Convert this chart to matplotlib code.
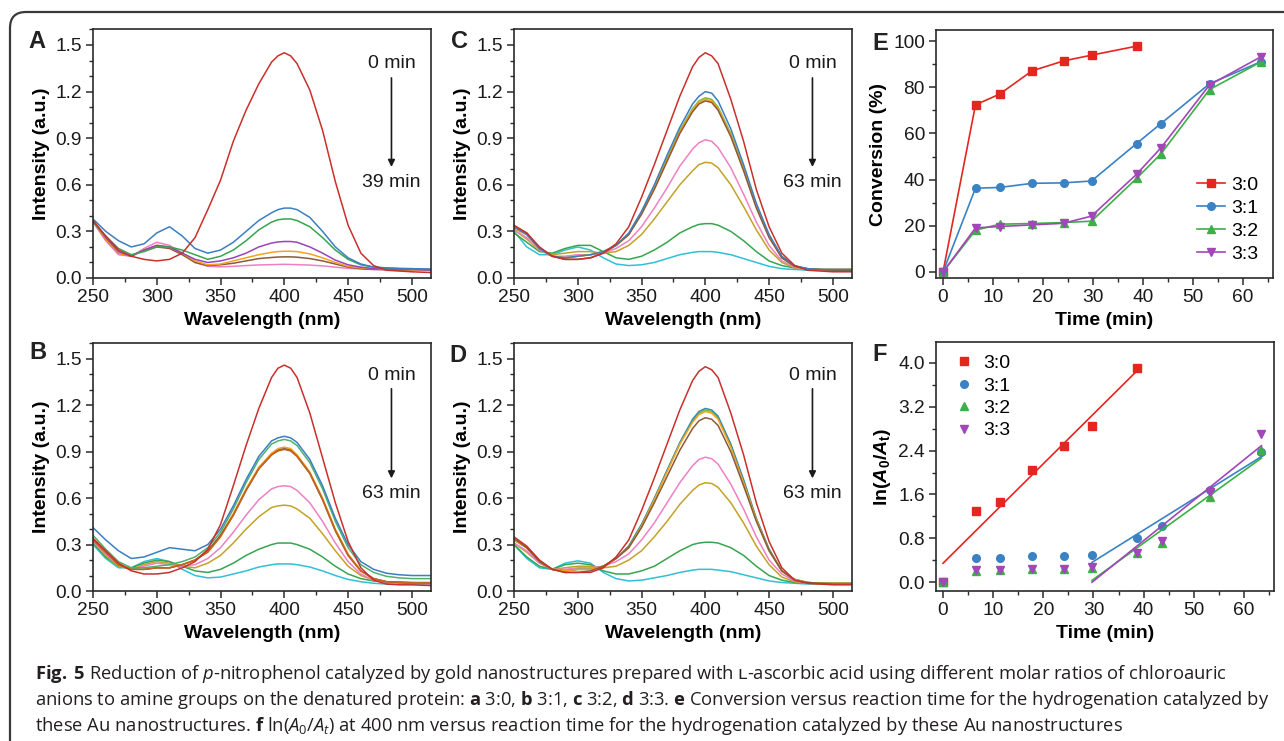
import numpy as np
import matplotlib
matplotlib.use('Agg')
import matplotlib.pyplot as plt
from matplotlib.ticker import MultipleLocator, AutoMinorLocator, FormatStrFormatter
from matplotlib.patches import FancyBboxPatch
from matplotlib.transforms import IdentityTransform

plt.rcParams['font.family'] = ['Liberation Sans', 'DejaVu Sans']
plt.rcParams['mathtext.fontset'] = 'custom'
plt.rcParams['mathtext.rm'] = 'Open Sans'
plt.rcParams['mathtext.it'] = 'Open Sans:italic'
plt.rcParams['mathtext.bf'] = 'Open Sans:bold'
plt.rcParams['mathtext.bfit'] = 'Liberation Sans:italic:bold'
plt.rcParams['mathtext.sf'] = 'Liberation Sans:bold'
plt.rcParams['mathtext.cal'] = 'DejaVu Sans'
plt.rcParams['mathtext.fallback'] = 'stixsans'

# ---------------- data ----------------
WL = [250, 260, 270, 280, 290, 300, 310, 320, 330, 340,
      350, 360, 370, 380, 390, 395, 400, 405, 410, 420,
      430, 440, 450, 460, 470, 480, 490, 500, 515]

# Panel A (3:0), 0 -> 39 min
A_red = [.37, .27, .18, .14, .12, .11, .12, .16, .26, .44,
         .63, .88, 1.08, 1.25, 1.39, 1.43, 1.45, 1.43, 1.38, 1.21,
         .95, .62, .34, .16, .08, .05, .045, .04, .035]
A_blue = [.38, .30, .24, .20, .22, .29, .33, .27, .19, .16,
          .18, .23, .30, .37, .42, .44, .45, .45, .44, .39,
          .30, .20, .13, .09, .07, .065, .062, .06, .058]
A_green = [.36, .27, .19, .15, .17, .20, .20, .18, .15, .12,
           .14, .18, .24, .31, .36, .375, .38, .38, .37, .33,
           .26, .18, .12, .085, .07, .065, .06, .06, .055]
A_purple = [.37, .26, .17, .14, .18, .21, .20, .16, .12, .10,
            .11, .13, .16, .20, .225, .232, .235, .235, .23, .20,
            .16, .115, .085, .07, .06, .058, .056, .055, .05]
A_orange = [.37, .25, .16, .14, .18, .21, .20, .16, .11, .085,
            .09, .11, .13, .15, .165, .17, .172, .172, .17, .155,
            .13, .10, .075, .065, .06, .055, .055, .05, .05]
A_brown = [.37, .25, .16, .14, .18, .20, .19, .15, .10, .08,
           .085, .095, .11, .125, .132, .135, .136, .136, .134, .125,
           .11, .09, .07, .06, .055, .055, .05, .05, .05]
A_pink = [.36, .24, .15, .14, .19, .23, .21, .16, .10, .075,
          .072, .075, .08, .084, .086, .087, .088, .087, .086, .083,
          .078, .07, .062, .058, .055, .052, .05, .05, .048]

# Panel B (3:1), 0 -> 63 min
B_red = [.34, .26, .18, .13, .11, .11, .12, .15, .19, .27,
         .43, .68, .94, 1.18, 1.38, 1.44, 1.46, 1.44, 1.38, 1.15,
         .86, .57, .32, .15, .07, .045, .04, .04, .035]
B_blue = [.41, .33, .26, .21, .22, .25, .28, .27, .26, .30,
          .40, .55, .72, .87, .97, .99, 1.0, .99, .96, .85,
          .68, .47, .30, .19, .14, .115, .105, .10, .10]
B_green = [.36, .27, .19, .15, .15, .16, .17, .19, .22, .28,
           .38, .53, .70, .85, .95, .97, .98, .97, .94, .83,
           .66, .45, .28, .17, .12, .095, .085, .08, .08]
B_orange = [.34, .26, .18, .14, .14, .15, .15, .17, .20, .26,
            .36, .50, .66, .80, .89, .92, .93, .92, .88, .77,
            .60, .40, .24, .13, .08, .06, .055, .05, .05]
B_brown = [.33, .25, .17, .14, .14, .15, .15, .17, .20, .26,
           .36, .49, .65, .79, .88, .91, .92, .91, .87, .76,
           .59, .39, .23, .13, .08, .06, .055, .05, .05]
B_rust = [.33, .25, .17, .14, .14, .15, .15, .17, .20, .25,
          .35, .49, .65, .79, .88, .905, .915, .905, .87, .76,
          .59, .39, .23, .13, .08, .06, .055, .05, .05]
B_pink = [.32, .24, .17, .14, .16, .18, .17, .16, .17, .21,
          .28, .38, .49, .59, .66, .675, .68, .675, .65, .57,
          .45, .31, .19, .11, .07, .055, .05, .05, .045]
B_olive = [.32, .23, .16, .14, .17, .19, .18, .16, .15, .18,
           .23, .31, .40, .48, .54, .55, .555, .55, .53, .47,
           .37, .26, .16, .10, .07, .06, .055, .055, .05]
B_green2 = [.31, .22, .16, .15, .18, .20, .19, .16, .13, .12,
            .14, .18, .23, .27, .30, .31, .31, .31, .30, .27,
            .22, .16, .11, .08, .065, .06, .06, .055, .055]
B_cyan = [.30, .21, .15, .15, .19, .21, .19, .14, .10, .085,
          .09, .11, .13, .155, .17, .175, .175, .175, .17, .155,
          .13, .10, .075, .06, .05, .045, .045, .045, .045]

# Panel C (3:2), 0 -> 63 min
C_red = [.34, .29, .20, .14, .12, .12, .13, .16, .22, .33,
         .52, .73, .95, 1.17, 1.36, 1.42, 1.45, 1.43, 1.38, 1.15,
         .88, .57, .33, .16, .08, .05, .045, .04, .04]
C_blue = [.33, .28, .19, .14, .13, .14, .15, .17, .21, .29,
          .43, .60, .79, .97, 1.12, 1.17, 1.20, 1.19, 1.14, .96,
          .73, .48, .28, .14, .08, .06, .055, .055, .055]
C_lime = [.32, .28, .19, .14, .13, .14, .15, .17, .21, .28,
          .42, .58, .77, .95, 1.09, 1.14, 1.16, 1.15, 1.10, .93,
          .71, .47, .27, .13, .075, .06, .055, .055, .055]
C_orange = [.32, .28, .19, .14, .13, .14, .15, .17, .21, .28,
            .42, .58, .76, .94, 1.08, 1.13, 1.15, 1.14, 1.09, .92,
            .70, .46, .27, .13, .075, .06, .055, .055, .055]
C_brown = [.33, .29, .19, .14, .12, .12, .13, .16, .21, .28,
           .41, .57, .75, .93, 1.07, 1.12, 1.14, 1.13, 1.08, .91,
           .69, .45, .26, .13, .075, .06, .055, .05, .05]
C_pink = [.31, .26, .18, .14, .14, .15, .15, .16, .19, .24,
          .33, .45, .58, .72, .83, .87, .89, .88, .84, .71,
          .54, .36, .21, .11, .07, .055, .05, .05, .05]
C_olive = [.31, .25, .18, .15, .16, .17, .17, .16, .17, .21,
           .28, .38, .49, .60, .69, .73, .745, .74, .71, .60,
           .46, .31, .18, .10, .065, .055, .05, .05, .05]
C_green = [.29, .23, .17, .16, .19, .21, .21, .17, .13, .12,
           .14, .18, .23, .29, .33, .345, .35, .35, .34, .30,
           .24, .17, .11, .08, .065, .06, .055, .055, .055]
C_cyan = [.30, .20, .15, .15, .18, .20, .18, .13, .09, .08,
          .085, .10, .125, .15, .165, .17, .17, .17, .165, .15,
          .125, .10, .075, .06, .055, .05, .05, .05, .05]

# Panel D (3:3), 0 -> 63 min
D_red = [.35, .29, .20, .14, .12, .12, .12, .15, .22, .33,
         .52, .73, .95, 1.17, 1.36, 1.42, 1.45, 1.43, 1.38, 1.15,
         .88, .57, .32, .15, .07, .05, .045, .04, .04]
D_teal = [.33, .28, .19, .14, .13, .14, .14, .16, .21, .29,
          .43, .60, .78, .96, 1.11, 1.16, 1.18, 1.17, 1.13, .95,
          .72, .47, .27, .13, .075, .055, .05, .05, .05]
D_lime = [.33, .28, .19, .14, .13, .14, .14, .16, .21, .29,
          .43, .59, .78, .95, 1.10, 1.15, 1.17, 1.16, 1.12, .94,
          .71, .46, .27, .13, .075, .055, .05, .05, .05]
D_orange = [.33, .28, .19, .14, .13, .14, .14, .16, .21, .28,
            .42, .59, .77, .95, 1.09, 1.14, 1.16, 1.15, 1.11, .93,
            .70, .46, .26, .13, .075, .055, .05, .05, .05]
D_brown = [.34, .28, .19, .14, .12, .12, .13, .16, .21, .28,
           .41, .57, .74, .91, 1.05, 1.10, 1.12, 1.11, 1.07, .90,
           .68, .45, .26, .13, .07, .055, .05, .045, .045]
D_pink = [.31, .26, .18, .14, .14, .15, .15, .16, .19, .24,
          .33, .44, .57, .70, .81, .85, .865, .855, .82, .69,
          .53, .35, .20, .11, .065, .05, .05, .045, .045]
D_olive = [.31, .25, .18, .14, .15, .16, .16, .15, .16, .20,
           .26, .35, .45, .56, .65, .685, .70, .695, .67, .57,
           .44, .29, .17, .09, .06, .05, .045, .045, .045]
D_green = [.30, .22, .16, .14, .17, .18, .17, .13, .11, .11,
           .13, .16, .21, .26, .30, .31, .315, .315, .31, .28,
           .23, .16, .10, .07, .055, .05, .05, .05, .05]
D_cyan = [.30, .21, .15, .14, .18, .195, .18, .12, .08, .065,
          .07, .085, .10, .12, .135, .14, .14, .14, .135, .125,
          .105, .085, .065, .055, .05, .045, .045, .045, .045]

# Panels E and F
T = [0, 6.5, 11.3, 17.8, 24.1, 29.7, 38.7, 43.6, 53.3, 63.5]
RATIOS = ['3:0', '3:1', '3:2', '3:3']
CONV_30 = [0, 72.4, 77.0, 87.1, 91.4, 93.9, 97.8]
CONV_31 = [0, 36.3, 36.6, 38.4, 38.6, 39.4, 55.6, 64.3, 81.5, 91.0]
CONV_32 = [0, 18.1, 20.7, 21.0, 21.4, 22.0, 40.5, 51.2, 79.0, 90.9]
CONV_33 = [0, 19.1, 19.7, 20.4, 21.1, 24.2, 42.3, 53.8, 81.0, 93.1]
LN_30 = [0, 1.29, 1.47, 2.04, 2.49, 2.84, 3.91]
LN_31 = [0, 0.446, 0.45, 0.476, 0.48, 0.495, 0.806, 1.03, 1.68, 2.38]
LN_32 = [0, 0.20, 0.226, 0.238, 0.244, 0.256, 0.53, 0.71, 1.56, 2.41]
LN_33 = [0, 0.214, 0.226, 0.238, 0.25, 0.275, 0.537, 0.76, 1.64, 2.70]

# ---------------- styles ----------------
c_red, c_blue, c_green, c_purple = '#c9302c', '#3b7fc2', '#37a54f', '#9a44b6'
c_orange, c_brown, c_pink, c_olive = '#f2a31f', '#8c5a36', '#ef80c6', '#c4a227'
c_cyan, c_rust, c_lime, c_teal = '#30c0d6', '#c8621e', '#7fb83a', '#2f8fa8'
e_cols = ['#e3261f', '#3a82c4', '#3daf47', '#a246b8']
e_marks = ['s', 'o', '^', 'v']

W, H = 1284, 741
fig = plt.figure(figsize=(W / 100, H / 100), dpi=100)
fig.patch.set_facecolor('white')

def px_axes(l, t, r, b):
    return fig.add_axes([l / W, 1 - b / H, (r - l) / W, (b - t) / H])

SP = '#2a2a2a'
def style(ax):
    for s in ax.spines.values():
        s.set_linewidth(1.2)
        s.set_color(SP)
    ax.tick_params(which='both', direction='out', top=False, right=False,
                   colors=SP, labelsize=13.8, labelcolor='#1a1a1a', pad=3)
    ax.tick_params(which='major', length=5, width=1.1)
    ax.tick_params(which='minor', length=3, width=1.0)

def spectra(ax, curves, tend, ytxt):
    for vals, col in curves:
        ax.plot(WL, vals, color=col, lw=1.1)
    ax.set_xlim(250, 515)
    ax.set_ylim(0, 1.603)
    ax.xaxis.set_major_locator(MultipleLocator(50))
    ax.xaxis.set_minor_locator(AutoMinorLocator(2))
    ax.yaxis.set_major_locator(MultipleLocator(0.3))
    ax.yaxis.set_minor_locator(AutoMinorLocator(3))
    ax.yaxis.set_major_formatter(FormatStrFormatter('%.1f'))
    ax.set_xlabel('Wavelength (nm)', fontsize=14, fontweight='bold', labelpad=4)
    ax.set_ylabel('Intensity (a.u.)', fontsize=14, fontweight='bold', labelpad=4)
    style(ax)
    xa = 484
    y0, ya, yb, y1 = ytxt
    ax.text(xa, y0, '0 min', ha='center', va='center', fontsize=14, color='#1a1a1a')
    ax.annotate('', xy=(xa, yb), xytext=(xa, ya),
                arrowprops=dict(arrowstyle='-|>', color='#1a1a1a', lw=1.2,
                                mutation_scale=10, shrinkA=0, shrinkB=0))
    ax.text(xa, y1, tend, ha='center', va='center', fontsize=14, color='#1a1a1a')

axA = px_axes(93, 29, 431, 278)
spectra(axA, [(A_pink, c_pink), (A_brown, c_brown), (A_orange, c_orange),
              (A_purple, c_purple), (A_green, c_green), (A_blue, c_blue),
              (A_red, c_red)], '39 min', (1.378, 1.288, 0.715, 0.618))

axB = px_axes(93, 343, 431, 591)
spectra(axB, [(B_cyan, c_cyan), (B_green2, c_green), (B_olive, c_olive),
              (B_pink, c_pink), (B_orange, c_orange), (B_brown, c_brown),
              (B_rust, c_rust), (B_green, '#4fb070'), (B_blue, c_blue),
              (B_red, c_red)], '63 min', (1.394, 1.307, 0.728, 0.631))

axC = px_axes(514, 29, 852, 278)
spectra(axC, [(C_cyan, c_cyan), (C_green, c_green), (C_olive, c_olive),
              (C_pink, c_pink), (C_lime, c_lime), (C_orange, c_orange),
              (C_brown, c_brown), (C_blue, c_blue), (C_red, c_red)],
        '63 min', (1.378, 1.288, 0.715, 0.618))

axD = px_axes(514, 343, 852, 591)
spectra(axD, [(D_cyan, c_cyan), (D_green, c_green), (D_olive, c_olive),
              (D_pink, c_pink), (D_lime, c_lime), (D_teal, c_teal),
              (D_orange, c_orange), (D_brown, c_brown), (D_red, c_red)],
        '63 min', (1.394, 1.307, 0.728, 0.631))

# Panel E
axE = px_axes(936, 30, 1273, 278)
convs = [CONV_30, CONV_31, CONV_32, CONV_33]
for lab, y, col, mk in zip(RATIOS, convs, e_cols, e_marks):
    axE.plot(T[:len(y)], y, color=col, lw=1.2, marker=mk, ms=5.5,
             mec=col, mfc=col, label=lab)
axE.set_xlim(-1.4, 66)
axE.set_ylim(-2.6, 104.8)
axE.xaxis.set_major_locator(MultipleLocator(10))
axE.xaxis.set_minor_locator(AutoMinorLocator(2))
axE.yaxis.set_major_locator(MultipleLocator(20))
axE.yaxis.set_minor_locator(AutoMinorLocator(2))
axE.set_xlabel('Time (min)', fontsize=14, fontweight='bold', labelpad=4)
axE.set_ylabel('Conversion (%)', fontsize=14, fontweight='bold', labelpad=4)
style(axE)
axE.legend(loc='upper left', bbox_to_anchor=(0.774, 0.41), frameon=False,
           fontsize=14, handlelength=1.45, handletextpad=0.3,
           labelspacing=0.28, borderpad=0, borderaxespad=0)

# Panel F
axF = px_axes(936, 342, 1274, 591)
lns = [LN_30, LN_31, LN_32, LN_33]
for i, (lab, y, col, mk) in enumerate(zip(RATIOS, lns, e_cols, e_marks)):
    tt = np.array(T[:len(y)])
    yy = np.array(y)
    axF.plot(tt, yy, ls='none', marker=mk, ms=5.5, mec=col, mfc=col, label=lab)
    sel = slice(None) if i == 0 else slice(5, None)
    k, b = np.polyfit(tt[sel], yy[sel], 1)
    xs = np.array([tt[sel][0], tt[sel][-1]])
    axF.plot(xs, k * xs + b, color=col, lw=1.2)
axF.set_xlim(-1.4, 66)
axF.set_ylim(-0.16, 4.38)
axF.xaxis.set_major_locator(MultipleLocator(10))
axF.xaxis.set_minor_locator(AutoMinorLocator(2))
axF.yaxis.set_major_locator(MultipleLocator(0.8))
axF.yaxis.set_minor_locator(AutoMinorLocator(2))
axF.yaxis.set_major_formatter(FormatStrFormatter('%.1f'))
axF.set_xlabel('Time (min)', fontsize=14, fontweight='bold', labelpad=4)
axF.set_ylabel(r'ln($\mathbfit{A}_{\mathsf{0}}$/$\mathbfit{A}_{\mathsf{t}}$)',
               fontsize=14, fontweight='bold', labelpad=4)
style(axF)
axF.legend(loc='upper left', bbox_to_anchor=(0.053, 0.95), frameon=False,
           fontsize=14, handlelength=1.0, handletextpad=0.5,
           labelspacing=0.25, borderpad=0, borderaxespad=0)

# panel letters
for lt, (x, y) in zip('ABCDEF', [(37, 41), (37.5, 353), (459, 41),
                                (458, 355), (880, 43), (880, 354)]):
    fig.text(x / W, 1 - y / H, lt, fontsize=17, fontweight='bold',
             ha='center', va='center', color='#222222')

# border
border = FancyBboxPatch((10, -40), 1340, 769,
                        boxstyle='round,pad=0,rounding_size=16',
                        transform=IdentityTransform(), fill=False,
                        ec='#3a3a3a', lw=1.6)
fig.add_artist(border)

# caption
lines = [
    r"$\mathbf{Fig.\;5}$ Reduction of $\mathit{p}$-nitrophenol catalyzed by gold nanostructures prepared with $\mathcal{ʟ}$-ascorbic acid using different molar ratios of chloroauric",
    r"anions to amine groups on the denatured protein: $\mathbf{a}$ 3:0, $\mathbf{b}$ 3:1, $\mathbf{c}$ 3:2, $\mathbf{d}$ 3:3. $\mathbf{e}$ Conversion versus reaction time for the hydrogenation catalyzed by",
    r"these Au nanostructures. $\mathbf{f}$ ln($\mathit{A}_{\mathit{0}}$/$\mathit{A}_{\mathit{t}}$) at 400 nm versus reaction time for the hydrogenation catalyzed by these Au nanostructures",
]
baselines = [679, 705, 731]
caps = []
for ln, yb in zip(lines, baselines):
    caps.append(fig.text(35 / W, 1 - yb / H, ln, fontsize=13,
                         family=['Open Sans', 'DejaVu Sans'], va='baseline',
                         ha='left', color='#231f20'))
fig.canvas.draw()
r = fig.canvas.get_renderer()
w2 = caps[1].get_window_extent(r).width
s = 13 * 1227 / w2
for c in caps:
    c.set_fontsize(s)

fig.savefig('out.png', dpi=100)
